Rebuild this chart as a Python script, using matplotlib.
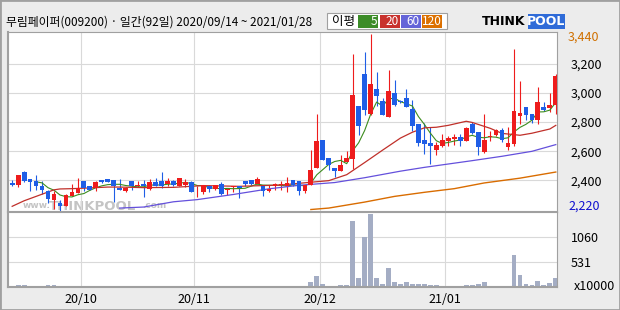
import matplotlib
matplotlib.use('Agg')
import matplotlib.pyplot as plt
from matplotlib.patches import Rectangle
import numpy as np
import pandas as pd

plt.rcParams['font.family'] = ['Noto Sans CJK KR', 'DejaVu Sans']

title = '무림페이퍼(009200) · 일간(92일) 2020/09/14 ~ 2021/01/28'

# 일봉 데이터 (시가, 고가, 저가, 종가) - 그림에서 읽은 값
opens = [2382, 2370, 2458, 2410, 2398, 2364, 2329, 2268, 2246, 2226,
         2295, 2315, 2398, 2359, 2348, 2400, 2410, 2405, 2350, 2324,
         2398, 2359, 2377, 2341, 2391, 2398, 2377, 2398, 2359, 2370,
         2391, 2324, 2318, 2364, 2341, 2377, 2335, 2352, 2359, 2398,
         2405, 2377, 2364, 2325, 2359, 2370, 2359, 2405, 2393, 2325,
         2370, 2485, 2677, 2553, 2485, 2466, 2526, 2549, 2907, 3129,
         2855, 3026, 2946, 2832, 2997, 2946, 2965, 2889, 2786, 2677,
         2656, 2610, 2633, 2672, 2686, 2697, 2672, 2786, 2731, 2592,
         2695, 2713, 2745, 2631, 2649, 2839, 2903, 2855, 2816, 2903,
         2896, 2914]
highs = [2405, 2440, 2467, 2412, 2440, 2393, 2336, 2325, 2267, 2308,
         2377, 2417, 2398, 2364, 2398, 2405, 2412, 2405, 2410, 2352,
         2398, 2398, 2405, 2410, 2417, 2460, 2417, 2400, 2417, 2410,
         2398, 2364, 2370, 2368, 2370, 2391, 2340, 2364, 2364, 2398,
         2405, 2421, 2366, 2366, 2380, 2393, 2421, 2405, 2393, 2370,
         2610, 2855, 2677, 2553, 2485, 2576, 2599, 3266, 2907, 3280,
         3403, 3143, 2965, 3159, 3090, 2950, 3026, 2953, 2786, 2790,
         2763, 2663, 2718, 2702, 2718, 2718, 2765, 2797, 2731, 2855,
         2736, 2752, 2759, 2763, 3301, 3084, 2903, 2855, 3038, 2937,
         2999, 3129]
lows = [2364, 2352, 2391, 2325, 2336, 2308, 2244, 2203, 2193, 2226,
        2290, 2313, 2329, 2331, 2325, 2382, 2388, 2251, 2331, 2320,
        2331, 2352, 2285, 2336, 2359, 2348, 2359, 2360, 2359, 2352,
        2318, 2285, 2308, 2318, 2336, 2299, 2301, 2318, 2278, 2364,
        2370, 2377, 2295, 2320, 2336, 2336, 2320, 2359, 2297, 2313,
        2370, 2485, 2537, 2473, 2423, 2466, 2526, 2480, 2713, 2850,
        2846, 2912, 2846, 2832, 2907, 2930, 2900, 2736, 2633, 2580,
        2515, 2576, 2626, 2633, 2640, 2636, 2670, 2718, 2576, 2587,
        2672, 2702, 2660, 2610, 2633, 2788, 2814, 2793, 2784, 2873,
        2866, 2857]
closes = [2369, 2439, 2394, 2390, 2359, 2331, 2274, 2308, 2226, 2301,
          2322, 2350, 2348, 2336, 2391, 2387, 2391, 2359, 2336, 2350,
          2364, 2370, 2359, 2391, 2359, 2359, 2398, 2370, 2417, 2387,
          2318, 2330, 2368, 2343, 2368, 2304, 2340, 2359, 2348, 2377,
          2377, 2410, 2325, 2343, 2377, 2377, 2382, 2366, 2325, 2366,
          2469, 2667, 2542, 2503, 2466, 2507, 2553, 2987, 2775, 2885,
          3061, 2976, 2850, 3015, 2919, 2937, 2905, 2770, 2656, 2649,
          2638, 2645, 2677, 2690, 2697, 2672, 2759, 2725, 2626, 2677,
          2706, 2745, 2674, 2656, 2878, 2862, 2850, 2816, 2937, 2885,
          2919, 3113]
# 거래량 (x10000)
volumes = [30, 34, 32, 30, 31, 29, 33, 32, 30, 29,
           28, 31, 29, 27, 28, 27, 26, 30, 27, 26,
           26, 27, 28, 26, 27, 29, 27, 26, 28, 26,
           29, 28, 27, 26, 25, 30, 26, 25, 28, 25,
           26, 27, 27, 26, 25, 25, 27, 28, 30, 28,
           106, 234, 64, 21, 21, 42, 42, 1402, 191, 1048,
           1551, 191, 64, 404, 106, 64, 106, 64, 64, 64,
           42, 42, 21, 21, 21, 21, 42, 42, 64, 106,
           21, 21, 21, 21, 680, 255, 64, 42, 127, 42,
           85, 191]

# 이동평균선
ma20_idx = [0, 2, 4, 7, 8, 10, 13, 16, 18, 22, 27, 32, 38, 45, 50, 53, 56, 59,
            62, 65, 67, 69, 71, 73, 76, 77, 80, 82, 85, 87, 90, 91]
ma20_val = [2222, 2260, 2290, 2335, 2341, 2343, 2348, 2354, 2354, 2350, 2352,
            2364, 2359, 2368, 2387, 2398, 2439, 2522, 2607, 2690, 2730, 2760,
            2764, 2777, 2805, 2797, 2757, 2722, 2709, 2723, 2752, 2777]
ma60_idx = [18, 22, 27, 31, 37, 43, 48, 54, 59, 65, 69, 73, 77, 82, 87, 91]
ma60_val = [2210, 2217, 2253, 2268, 2303, 2342, 2366, 2385, 2418, 2463, 2489,
            2512, 2535, 2565, 2599, 2645]
ma120_idx = [50, 53, 59, 64, 69, 74, 79, 85, 91]
ma120_val = [2200, 2210, 2251, 2290, 2318, 2343, 2382, 2415, 2457]

month_start = [12, 31, 52, 73]
month_labels = ['20/10', '20/11', '20/12', '21/01']
price_ticks = [2400, 2600, 2800, 3000, 3200]
vol_ticks = [531, 1060]

RED = '#ee1c1c'
BLUE = '#1f5ee6'
GRID = '#d9d9d9'
FRAME = '#a0a0a0'

W, H = 620, 310


def fx(px):
    return px / W


def fy(py):
    return 1 - py / H


fig = plt.figure(figsize=(6.2, 3.1), dpi=100)
fig.patch.set_facecolor('#ececec')

ax = fig.add_axes([fx(8), fy(212), fx(557) - fx(8), fy(32) - fy(212)])
axv = fig.add_axes([fx(8), fy(287), fx(557) - fx(8), fy(212) - fy(287)], sharex=ax)

o = np.array(opens)
h = np.array(highs)
l = np.array(lows)
c = np.array(closes)
x = np.arange(len(c))
cols = np.where(c >= o, RED, BLUE)

ax.vlines(x, l, h, colors=cols, lw=0.8, zorder=2)
ax.bar(x, np.maximum(np.abs(c - o), 5), bottom=np.minimum(o, c), width=0.8,
       color=cols, linewidth=0, zorder=3)

ma5 = pd.Series(closes).rolling(5).mean()
ax.plot(x, ma5, color='#3c8c1e', lw=0.8, zorder=2.5)
ax.plot(ma20_idx, ma20_val, color='#c0302a', lw=0.9, zorder=2.5)
ax.plot(ma60_idx, ma60_val, color='#6450dc', lw=0.9, zorder=2.5)
ax.plot(ma120_idx, ma120_val, color='#d96c00', lw=1.0, zorder=2.5)

ax.set_xlim(-0.7, 91.2)
ax.set_ylim(2183, 3417)
grid_x = [m - 0.5 for m in month_start]
ax.set_xticks(grid_x)
ax.tick_params(axis='x', labelbottom=False, length=0)
ax.set_yticks(price_ticks, [f'{p:,}' for p in price_ticks])
ax.yaxis.tick_right()
ax.tick_params(axis='y', length=0, pad=10, labelsize=9)
ax.grid(True, color=GRID, lw=0.8, zorder=0)

# 워터마크
ax.text(0.027, 0.02, 'www.', transform=ax.transAxes, fontsize=6.5,
        color='#c4c4c4', fontweight='bold', zorder=1, family='DejaVu Sans')
ax.text(0.074, 0.01, 'THINKPOOL', transform=ax.transAxes, fontsize=9.5,
        color='#c4c4c4', fontweight='bold', zorder=1, family='DejaVu Sans')
ax.text(0.245, 0.02, '.com', transform=ax.transAxes, fontsize=6.5,
        color='#c4c4c4', fontweight='bold', zorder=1, family='DejaVu Sans')

axv.bar(x, volumes, width=0.8, color='#a4adc4', linewidth=0, zorder=2)
axv.set_ylim(0, 1587)
axv.set_yticks(vol_ticks, [str(v) for v in vol_ticks])
axv.yaxis.tick_right()
axv.tick_params(axis='y', length=0, pad=10, labelsize=9)
axv.set_xticks(grid_x, month_labels)
axv.tick_params(axis='x', length=0, pad=4, labelsize=9)
axv.grid(True, color=GRID, lw=0.8, zorder=0)

for a in (ax, axv):
    a.set_facecolor('white')
    for s in a.spines.values():
        s.set_color(FRAME)
        s.set_linewidth(0.8)
ax.spines['bottom'].set_linewidth(1.5)
ax.spines['left'].set_linewidth(1.5)
axv.spines['left'].set_linewidth(1.5)
axv.spines['bottom'].set_linewidth(1.5)

# 최고/최저가 라벨
fig.text(fx(568), fy(37), '3,440', color='#d07000', fontsize=9, va='center')
fig.text(fx(568), fy(206), '2,220', color='#1010d0', fontsize=9, va='center')
fig.text(fx(574), fy(286), 'x10000', fontsize=9, va='center')

fig.text(fx(6), fy(22), title, fontsize=8.5, va='center')

# 이평 범례
fig.add_artist(Rectangle((fx(327), fy(29)), fx(120), 16 / H, transform=fig.transFigure,
                         facecolor='white', edgecolor=FRAME, lw=0.8))
fig.text(fx(332), fy(21), '이평', fontsize=9, va='center')
legend_items = [('5', '#3c8c28'), ('20', '#c8322d'), ('60', '#6464d8'), ('120', '#dc7000')]
bx = 358
for lab, col in legend_items:
    fig.add_artist(Rectangle((fx(bx), fy(28)), fx(20), 13 / H, transform=fig.transFigure,
                             facecolor=col, edgecolor='none'))
    fig.text(fx(bx + 19), fy(21.5), lab, color='white', fontsize=8.5, va='center', ha='right')
    bx += 21.5

# 로고
fig.text(fx(482), fy(21.5), 'THINK', fontsize=9, fontweight='bold', va='center',
         family='DejaVu Sans')
fig.add_artist(Rectangle((fx(528), fy(29)), fx(37), 15 / H, transform=fig.transFigure,
                         facecolor='#2f6bd8', edgecolor='none'))
fig.text(fx(546.5), fy(21.5), 'POOL', fontsize=9, fontweight='bold', color='white',
         va='center', ha='center', family='DejaVu Sans')

fig.add_artist(Rectangle((0, 0), 1, 1, transform=fig.transFigure, fill=False,
                         edgecolor=FRAME, lw=2))

fig.savefig('out.png', dpi=100, facecolor=fig.get_facecolor())
